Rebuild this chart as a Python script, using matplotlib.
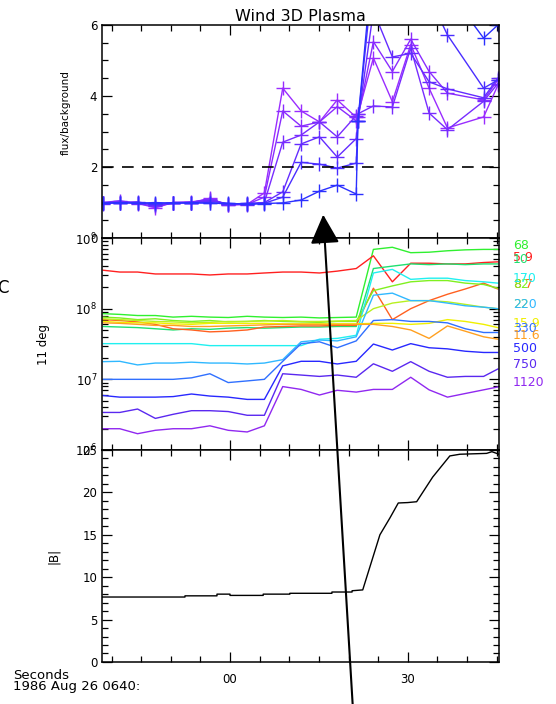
import matplotlib
matplotlib.use("Agg")
import matplotlib.pyplot as plt
from matplotlib.ticker import MultipleLocator, FuncFormatter, LogLocator
from matplotlib.patches import FancyArrowPatch, ArrowStyle

plt.rcParams['font.family'] = ['DejaVu Sans']

# seconds after 1986 Aug 26 06:40:00
t_ratio = [-21.4, -18.6, -15.6, -12.6, -9.6, -6.5, -3.4, -0.3, 2.9, 5.8, 8.9, 12.0,
           15.1, 18.1, 21.3, 21.6, 24.2, 27.4, 30.5, 33.6, 36.7, 42.8, 45.2]

# flux / background, six channels (violet -> blue)
ratio_1 = [1.0, 1.02, 0.98, 0.85, 1.0, 1.0, 1.12, 0.92, 0.95, 1.27, 4.22, 3.58,
           3.27, 3.89, 3.40, 3.50, 5.07, 3.84, 5.45, 4.22, 3.10, 3.41, 4.30]
ratio_2 = [0.98, 1.0, 1.0, 0.95, 1.0, 1.02, 1.08, 0.95, 0.95, 1.15, 3.58, 3.15,
           3.27, 3.70, 3.30, 3.40, 5.53, 4.69, 5.60, 4.69, 4.08, 3.89, 4.45]
ratio_3 = [1.0, 1.05, 0.97, 0.90, 0.98, 1.0, 1.10, 0.93, 0.97, 1.0, 2.70, 2.90,
           3.27, 2.85, 3.45, 3.50, 3.72, 3.69, 5.35, 3.52, 3.05, 3.85, 4.35]
ratio_4 = [0.97, 1.0, 1.02, 0.92, 1.0, 1.0, 1.05, 0.97, 0.93, 1.0, 1.30, 2.65,
           2.85, 2.28, 2.80, 3.30, 6.40, 5.10, 5.20, 4.40, 4.20, 3.95, 4.50]
ratio_5 = [1.0, 0.98, 1.0, 0.95, 1.0, 0.98, 1.0, 0.95, 0.98, 0.98, 1.15, 2.13,
           2.08, 1.97, 2.11, 3.30, 7.5, 8.0, 7.5, 6.8, 5.72, 4.22, 4.45]
ratio_6 = [0.98, 1.0, 0.98, 1.0, 0.98, 1.0, 0.98, 0.98, 0.95, 0.97, 0.99, 1.07,
           1.32, 1.49, 1.24, 3.30, 8.0, 9.0, 8.5, 8.0, 7.0, 5.63, 6.0]
ratio_series = [ratio_1, ratio_2, ratio_3, ratio_4, ratio_5, ratio_6]
ratio_colors = ['#9a2cff', '#8a2cff', '#782cff', '#642cff', '#4a2eff', '#2c30ff']

t_flux = [-21.4, -18.6, -15.6, -12.6, -9.6, -6.5, -3.4, -0.3, 2.9, 5.8, 8.9, 12.0,
          15.1, 18.1, 21.3, 24.2, 27.4, 30.5, 33.6, 36.7, 39.7, 42.8, 45.2]

# 11 deg flux per energy channel
energy_labels = ['68', '5.9', '10', '8.7', '82', '170', '22', '220', '15.9',
                 '330', '11.6', '500', '750', '1120']
energy_colors = ['#30f030', '#ff2020', '#20e070', '#ff6020', '#80f020', '#20f0f0',
                 '#b8f020', '#30b8ff', '#f0f000', '#3070ff', '#ffa020', '#2828ff',
                 '#5a28f0', '#9028f0']
flux_68 = [8.5e7, 8.3e7, 8.0e7, 8.0e7, 7.6e7, 7.8e7, 7.6e7, 7.5e7, 7.8e7, 7.6e7, 7.5e7, 7.6e7,
           7.4e7, 7.5e7, 7.6e7, 6.9e8, 7.4e8, 6.2e8, 6.3e8, 6.6e8, 6.8e8, 6.9e8, 6.9e8]
flux_5_9 = [3.5e8, 3.3e8, 3.3e8, 3.1e8, 3.1e8, 3.1e8, 3.0e8, 3.1e8, 3.1e8, 3.2e8, 3.3e8, 3.3e8,
            3.2e8, 3.4e8, 3.7e8, 5.6e8, 2.4e8, 4.4e8, 4.4e8, 4.3e8, 4.3e8, 4.5e8, 4.6e8]
flux_10 = [5.6e7, 5.5e7, 5.4e7, 5.2e7, 5.0e7, 5.2e7, 5.1e7, 5.3e7, 5.4e7, 5.3e7, 5.4e7, 5.5e7,
           5.5e7, 5.6e7, 5.6e7, 3.7e8, 4.0e8, 4.3e8, 4.2e8, 4.3e8, 4.2e8, 4.3e8, 4.3e8]
flux_8_7 = [7.0e7, 6.8e7, 6.5e7, 6.0e7, 5.2e7, 5.0e7, 4.7e7, 4.8e7, 5.0e7, 5.5e7, 5.6e7, 5.7e7,
            5.7e7, 5.8e7, 5.8e7, 1.95e8, 7.0e7, 1.0e8, 1.3e8, 1.6e8, 1.9e8, 2.3e8, 1.9e8]
flux_82 = [7.6e7, 7.4e7, 7.0e7, 7.2e7, 6.8e7, 6.6e7, 6.8e7, 6.5e7, 6.6e7, 6.8e7, 6.6e7, 6.5e7,
           6.4e7, 6.6e7, 6.6e7, 1.8e8, 2.1e8, 2.4e8, 2.5e8, 2.5e8, 2.3e8, 2.2e8, 1.95e8]
flux_170 = [3.2e7, 3.2e7, 3.2e7, 3.2e7, 3.2e7, 3.2e7, 3.0e7, 3.0e7, 3.0e7, 3.0e7, 3.0e7, 3.0e7,
            3.7e7, 3.8e7, 4.2e7, 3.2e8, 3.6e8, 2.6e8, 2.7e8, 2.7e8, 2.5e8, 2.4e8, 2.3e8]
flux_22 = [7.2e7, 7.0e7, 6.8e7, 6.6e7, 6.5e7, 6.3e7, 6.4e7, 6.6e7, 6.6e7, 6.7e7, 6.8e7, 6.6e7,
           6.6e7, 6.7e7, 6.8e7, 1.0e8, 1.2e8, 1.3e8, 1.3e8, 1.25e8, 1.15e8, 1.05e8, 1.0e8]
flux_220 = [1.78e7, 1.8e7, 1.6e7, 1.7e7, 1.7e7, 1.75e7, 1.7e7, 1.7e7, 1.65e7, 1.7e7, 1.9e7, 3.4e7,
            3.6e7, 3.5e7, 4.0e7, 1.55e8, 1.66e8, 1.3e8, 1.3e8, 1.2e8, 1.1e8, 1.05e8, 1.0e8]
flux_15_9 = [6.6e7, 6.4e7, 6.3e7, 6.3e7, 6.1e7, 6.0e7, 6.2e7, 6.2e7, 6.2e7, 6.2e7, 6.1e7, 6.1e7,
             6.1e7, 6.1e7, 6.1e7, 6.2e7, 6.2e7, 6.0e7, 6.2e7, 7.0e7, 6.6e7, 6.0e7, 5.4e7]
flux_330 = [1.0e7, 1.0e7, 1.0e7, 1.0e7, 1.0e7, 1.05e7, 1.2e7, 9.0e6, 9.5e6, 1.0e7, 1.8e7, 3.2e7,
            3.4e7, 2.8e7, 3.5e7, 6.8e7, 7.0e7, 6.6e7, 6.6e7, 6.3e7, 5.2e7, 4.6e7, 4.6e7]
flux_11_6 = [6.3e7, 6.2e7, 6.0e7, 5.8e7, 5.8e7, 5.6e7, 5.6e7, 5.7e7, 5.8e7, 5.9e7, 6.0e7, 6.0e7,
             6.0e7, 6.0e7, 6.0e7, 6.0e7, 5.6e7, 5.0e7, 3.8e7, 5.7e7, 4.8e7, 4.0e7, 3.7e7]
flux_500 = [5.9e6, 5.6e6, 5.6e6, 5.6e6, 5.7e6, 6.2e6, 5.8e6, 5.6e6, 5.2e6, 5.2e6, 1.55e7, 1.8e7,
            1.8e7, 1.65e7, 1.8e7, 3.16e7, 2.6e7, 3.2e7, 2.8e7, 2.7e7, 2.5e7, 2.4e7, 2.4e7]
flux_750 = [3.4e6, 3.4e6, 3.8e6, 2.8e6, 3.2e6, 3.6e6, 3.6e6, 3.5e6, 3.1e6, 3.1e6, 1.2e7, 1.15e7,
            1.1e7, 1.15e7, 1.07e7, 1.66e7, 1.3e7, 1.78e7, 1.3e7, 1.07e7, 1.1e7, 1.1e7, 1.4e7]
flux_1120 = [2.0e6, 2.0e6, 1.7e6, 1.9e6, 2.0e6, 2.0e6, 2.2e6, 1.9e6, 1.8e6, 2.2e6, 7.9e6, 7.2e6,
             6.0e6, 7.0e6, 6.6e6, 7.2e6, 7.2e6, 1.07e7, 7.1e6, 5.6e6, 6.3e6, 7.1e6, 7.8e6]
flux_series = [flux_68, flux_5_9, flux_10, flux_8_7, flux_82, flux_170, flux_22, flux_220,
               flux_15_9, flux_330, flux_11_6, flux_500, flux_750, flux_1120]

# magnetic field magnitude
t_b = [-21.6, -7.6, -7.6, -2.2, -2.2, 0.0, 0.0, 5.6, 5.6, 10.1, 10.1, 17.2, 17.2, 20.6,
       20.6, 22.4, 25.3, 27.0, 28.4, 30.0, 31.5, 34.2, 37.1, 38.8, 43.3, 44.2, 45.4]
b_mag = [7.66, 7.66, 7.8, 7.8, 8.0, 8.0, 7.85, 7.85, 8.0, 8.0, 8.1, 8.1, 8.25, 8.25,
         8.4, 8.5, 15.0, 17.0, 18.75, 18.8, 18.9, 21.8, 24.3, 24.5, 24.6, 24.8, 24.5]

t_min, t_max = -21.6, 45.4

fig = plt.figure(figsize=(5.56, 7.04), dpi=100)
ax1 = fig.add_axes([0.1835, 0.6619, 0.714, 0.3026])
ax2 = fig.add_axes([0.1835, 0.3608, 0.714, 0.3011])
ax3 = fig.add_axes([0.1835, 0.0597, 0.714, 0.3011])

for ax in (ax1, ax2, ax3):
    ax.set_xlim(t_min, t_max)
    ax.xaxis.set_major_locator(MultipleLocator(30))
    ax.xaxis.set_minor_locator(MultipleLocator(5))
    ax.tick_params(which='both', direction='in', top=True, right=True, labelsize=8.5,
                   width=0.9)
    ax.tick_params(which='major', length=7)
    ax.tick_params(which='minor', length=4)
    for s in ax.spines.values():
        s.set_linewidth(1.1)

# flux / background
for vals, c in zip(ratio_series, ratio_colors):
    ax1.plot(t_ratio, vals, color=c, lw=1.0, marker='+', ms=10, mew=1.0)
ax1.axhline(2, color='k', lw=1.2, ls=(0, (7, 5)))
ax1.set_ylim(0, 6)
ax1.yaxis.set_major_locator(MultipleLocator(2))
ax1.yaxis.set_minor_locator(MultipleLocator(0.5))
ax1.set_xticklabels([])
ax1.set_ylabel('flux/background', fontsize=7.5)
ax1.yaxis.set_label_coords(-0.08, 0.59)
ax1.set_title('Wind 3D Plasma', fontsize=11.5, pad=3)

# 11 deg flux
for vals, c, lab in zip(flux_series, energy_colors, energy_labels):
    ax2.plot(t_flux, vals, color=c, lw=1.0)
    ax2.annotate(lab, xy=(1.0, vals[-1]), xycoords=('axes fraction', 'data'),
                 xytext=(10, 3), textcoords='offset points', color=c,
                 fontsize=9, va='center', ha='left', annotation_clip=False)
ax2.set_yscale('log')
ax2.set_ylim(1e6, 1e9)
ax2.yaxis.set_major_locator(LogLocator(base=10))
ax2.yaxis.set_minor_locator(LogLocator(base=10, subs=range(2, 10)))
ax2.set_xticklabels([])
ax2.set_ylabel('11 deg', fontsize=8.5)
ax2.yaxis.set_label_coords(-0.131, 0.5)

# |B|
ax3.plot(t_b, b_mag, color='k', lw=1.0)
ax3.set_ylim(0, 25)
ax3.yaxis.set_major_locator(MultipleLocator(5))
ax3.yaxis.set_minor_locator(MultipleLocator(1))
ax3.xaxis.set_major_formatter(FuncFormatter(lambda v, p: '%02d' % (int(round(v)) % 60)))
ax3.tick_params(axis='x', pad=8)
ax3.set_ylabel('|B|', fontsize=8.5)
ax3.yaxis.set_label_coords(-0.106, 0.5)

fig.text(0.024, 0.033, 'Seconds\n1986 Aug 26 0640:', fontsize=9.5, va='center',
         ha='left', linespacing=0.8)
fig.text(-0.006, 0.591, 'C', fontsize=12, va='center', ha='left')

arrow = FancyArrowPatch((0.635, -0.01), (0.581, 0.699), transform=fig.transFigure,
                        arrowstyle=ArrowStyle('-|>', head_length=0.9, head_width=0.45),
                        mutation_scale=20, color='k', lw=1.5)
fig.add_artist(arrow)

fig.savefig('out.png', dpi=100)
